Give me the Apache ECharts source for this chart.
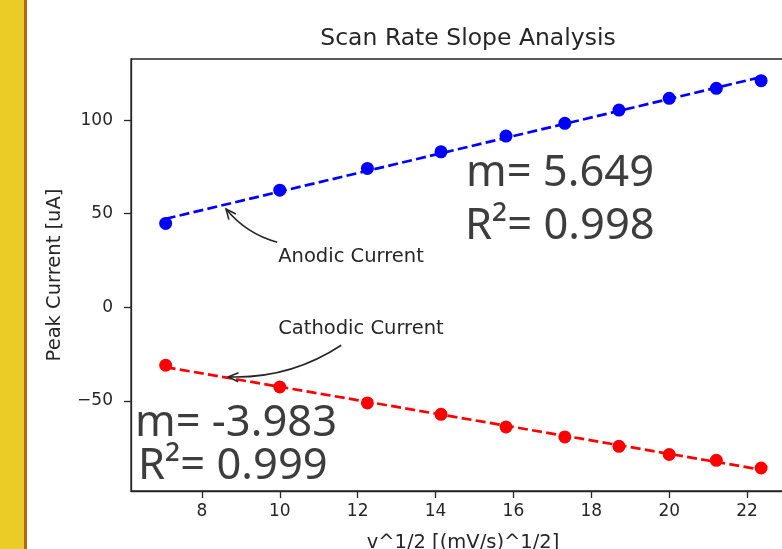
<!DOCTYPE html>
<html>
<head>
<meta charset="utf-8">
<script src="https://cdn.jsdelivr.net/npm/echarts@6/dist/echarts.min.js"></script>
<style>
    html, body {margin: 0; padding: 0; background: #fff;}
    #main {width: 782px; height: 549px;}
</style>
</head>
<body>
<div id="main"></div>
<script>
// sqrt(scan rate) and peak currents
var scanRoot = [7.07, 10.00, 12.25, 14.14, 15.81, 17.32, 18.71, 20.00, 21.21, 22.36];
var anodic = [44.8, 62.6, 74.2, 83.1, 91.5, 98.3, 105.4, 111.7, 117.0, 121.1];
var cathodic = [-31.0, -42.6, -51.1, -57.2, -64.0, -69.3, -74.3, -78.7, -81.8, -85.9];
var xTicks = [8, 10, 12, 14, 16, 18, 20, 22];
var yTicks = [-50, 0, 50, 100];
var fitText = {
    anodic: ['m= 5.649', 'R\u00b2= 0.998'],
    cathodic: ['m= -3.983', 'R\u00b2= 0.999']
};

var TXT = '#262626';

// least squares line, drawn between first and last x
function fitLine(xs, ys) {
    var n = xs.length, mx = 0, my = 0, sxy = 0, sxx = 0;
    for (var i = 0; i < n; i++) { mx += xs[i] / n; my += ys[i] / n; }
    for (var j = 0; j < n; j++) {
        sxy += (xs[j] - mx) * (ys[j] - my);
        sxx += (xs[j] - mx) * (xs[j] - mx);
    }
    var m = sxy / sxx, b = my - m * mx;
    return [[xs[0], m * xs[0] + b], [xs[n - 1], m * xs[n - 1] + b]];
}
function pairs(xs, ys) {
    return xs.map(function (x, i) { return [x, ys[i]]; });
}

var chart = echarts.init(document.getElementById('main'));

var axisFont = {fontFamily: 'DejaVu Sans', fontSize: 17, color: TXT};
var nameFont = {fontFamily: 'DejaVu Sans', fontSize: 19.5, color: TXT};

chart.setOption({
    animation: false,
    backgroundColor: '#fff',
    title: {
        text: 'Scan Rate Slope Analysis',
        left: 463,
        top: 22,
        textAlign: 'center',
        textStyle: {fontFamily: 'DejaVu Sans', fontSize: 23.5, fontWeight: 'normal', color: TXT}
    },
    grid: {
        left: 131, top: 59, width: 664, height: 432,
        outerBoundsMode: 'none', containLabel: false,
        show: true, borderColor: TXT, borderWidth: 1.3
    },
    xAxis: {
        type: 'value', min: 6.18, max: 23.23,
        name: 'v^1/2 [(mV/s)^1/2]',
        nameLocation: 'middle', nameGap: 42,
        nameTextStyle: nameFont,
        axisLine: {show: true, onZero: false, lineStyle: {color: TXT, width: 1.3}},
        axisTick: {show: true, length: 7, customValues: xTicks, lineStyle: {color: TXT, width: 1.3}},
        axisLabel: Object.assign({customValues: xTicks, margin: 12}, axisFont),
        splitLine: {show: false}
    },
    yAxis: {
        type: 'value', min: -98.2, max: 132.7,
        name: 'Peak Current [uA]',
        nameLocation: 'middle', nameGap: 66, nameRotate: 90,
        nameTextStyle: nameFont,
        axisLine: {show: true, onZero: false, lineStyle: {color: TXT, width: 1.3}},
        axisTick: {show: true, length: 7, customValues: yTicks, lineStyle: {color: TXT, width: 1.3}},
        axisLabel: Object.assign({
            customValues: yTicks, margin: 18,
            formatter: function (v) { return String(v).replace('-', '\u2212'); }
        }, axisFont),
        splitLine: {show: false}
    },
    series: [
        {
            type: 'line', data: fitLine(scanRoot, anodic), symbol: 'none', z: 2,
            lineStyle: {color: '#0000ff', width: 2.7, type: [10, 4.3]}
        },
        {
            type: 'line', data: fitLine(scanRoot, cathodic), symbol: 'none', z: 2,
            lineStyle: {color: '#ff0000', width: 2.7, type: [10, 4.3]}
        },
        {
            type: 'scatter', data: pairs(scanRoot, anodic), symbolSize: 13, z: 3,
            itemStyle: {color: '#0000ff', opacity: 1}
        },
        {
            type: 'scatter', data: pairs(scanRoot, cathodic), symbolSize: 13, z: 3,
            itemStyle: {color: '#ff0000', opacity: 1}
        }
    ]
});

// annotation with curved arrow, positioned in data coords
function annotate(label, tip, textAt, startOff, bow) {
    var p2 = chart.convertToPixel({gridIndex: 0}, tip);
    var t = chart.convertToPixel({gridIndex: 0}, textAt);
    var p0 = [t[0] + startOff[0], t[1] + startOff[1]];
    var dx = p2[0] - p0[0], dy = p2[1] - p0[1];
    var c = [(p0[0] + p2[0]) / 2 + bow * dy, (p0[1] + p2[1]) / 2 - bow * dx];
    var ang = Math.atan2(p2[1] - c[1], p2[0] - c[0]);
    var hl = 10, hw = 4.5;
    function back(side) {
        return [p2[0] - hl * Math.cos(ang) + side * hw * Math.sin(ang),
                p2[1] - hl * Math.sin(ang) - side * hw * Math.cos(ang)];
    }
    return [
        {
            type: 'bezierCurve', silent: true, z: 10,
            shape: {x1: p0[0], y1: p0[1], x2: p2[0], y2: p2[1], cpx1: c[0], cpy1: c[1]},
            style: {stroke: TXT, lineWidth: 1.6, fill: null}
        },
        {
            type: 'polyline', silent: true, z: 10,
            shape: {points: [back(1), p2, back(-1)]},
            style: {stroke: TXT, lineWidth: 1.6, fill: null}
        },
        {
            type: 'text', silent: true, z: 10,
            style: {text: label, x: t[0], y: t[1], font: '19.5px "DejaVu Sans"', fill: TXT,
                align: 'left', verticalAlign: 'bottom'}
        }
    ];
}

function bigText(lines, x, ys) {
    return lines.map(function (s, i) {
        return {
            type: 'text', silent: true, z: 10,
            style: {text: s, x: x[i], y: ys[i], font: '43.5px "Noto Sans"', fill: '#3d3d3d',
                align: 'left', verticalAlign: 'middle'}
        };
    });
}

var graphics = [
    {type: 'rect', silent: true, shape: {x: 0, y: 0, width: 24, height: 549}, style: {fill: '#ebcb25'}},
    {type: 'rect', silent: true, shape: {x: 24, y: 0, width: 3, height: 549}, style: {fill: '#b8651a'}}
];
graphics = graphics
    .concat(annotate('Anodic Current', [8.62, 52.5], [9.96, 21.4], [-1, -25], 0.16))
    .concat(annotate('Cathodic Current', [8.68, -37.2], [9.96, -17.1], [63, 6], 0.16))
    .concat(bigText(fitText.anodic, [466, 465], [174, 227]))
    .concat(bigText(fitText.cathodic, [135, 138], [424, 467]));

chart.setOption({graphic: graphics});
</script>
</body>
</html>
